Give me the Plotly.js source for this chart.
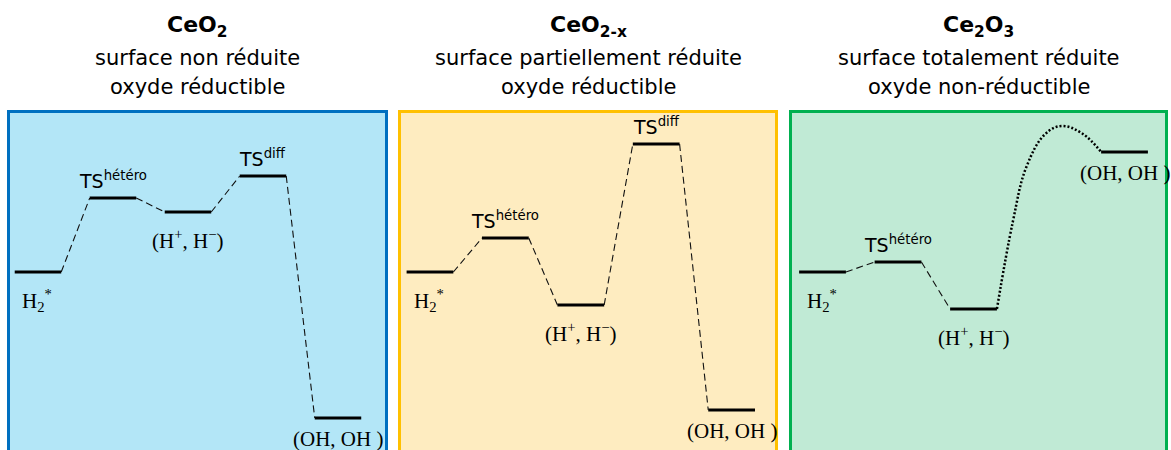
<!DOCTYPE html>
<html><head><meta charset="utf-8">
<script src="https://cdn.plot.ly/plotly-3.0.1.min.js"></script>
<style>html,body{margin:0;padding:0;background:#fff}#chart{width:1171px;height:450px}</style>
</head><body><div id="chart"></div>
<script>
// ---- panel titles ----
const panelFormula = ['CeO<sub>2</sub>', 'CeO<sub>2-x</sub>', 'Ce<sub>2</sub>O<sub>3</sub>'];
const panelLine2 = ['surface non réduite', 'surface partiellement réduite', 'surface totalement réduite'];
const panelLine3 = ['oxyde réductible', 'oxyde réductible', 'oxyde non-réductible'];

// ---- states: reaction-coordinate position, relative energy (H2* = 0), label ----
const posCeO2 = [0, 1, 2, 3, 4];
const energyCeO2 = [0, 0.74, 0.60, 0.96, -1.46];
const labelCeO2 = ['H<sub>2</sub><sup>*</sup>', 'TS<sup>hétéro</sup>', '(H<sup>+</sup>, H<sup>−</sup>)', 'TS<sup>diff</sup>', '(OH, OH )'];

const posCeO2x = [0, 1, 2, 3, 4];
const energyCeO2x = [0, 0.34, -0.33, 1.28, -1.38];
const labelCeO2x = ['H<sub>2</sub><sup>*</sup>', 'TS<sup>hétéro</sup>', '(H<sup>+</sup>, H<sup>−</sup>)', 'TS<sup>diff</sup>', '(OH, OH )'];

const posCe2O3 = [0, 1, 2, 4];
const energyCe2O3 = [0, 0.10, -0.37, 1.20];
const labelCe2O3 = ['H<sub>2</sub><sup>*</sup>', 'TS<sup>hétéro</sup>', '(H<sup>+</sup>, H<sup>−</sup>)', '(OH, OH )'];

// label placement: above (TS) or below the level
const labelSideCeO2 = ['below', 'above', 'below', 'above', 'below'];
const labelSideCeO2x = ['below', 'above', 'below', 'above', 'below'];
const labelSideCe2O3 = ['below', 'above', 'below', 'below'];

// dotted (non-reducible) pathway, Ce2O3 panel
const curveX = [2.31, 2.52, 2.70, 2.95, 3.17, 3.45, 3.69];
const curveE = [-0.37, 0.50, 1.05, 1.38, 1.46, 1.38, 1.20];

// ---- styles / layout ----
const W = 1171, H = 450;
const HW = 0.31; // half width of a level
const panels = [
  {pos: posCeO2, en: energyCeO2, lab: labelCeO2, side: labelSideCeO2, box: [7, 388], range: [-0.413, 4.667], fill: '#b3e6f7', line: '#0070c0', connectAll: true},
  {pos: posCeO2x, en: energyCeO2x, lab: labelCeO2x, side: labelSideCeO2x, box: [398, 778], range: [-0.424, 4.615], fill: '#feecc0', line: '#ffc000', connectAll: true},
  {pos: posCe2O3, en: energyCe2O3, lab: labelCe2O3, side: labelSideCe2O3, box: [789, 1168], range: [-0.444, 4.576], fill: '#c0ead5', line: '#00b050', connectAll: false}
];

const traces = [], shapes = [], annotations = [];
const layout = {
  width: W, height: H, margin: {l: 0, r: 0, t: 0, b: 0},
  paper_bgcolor: '#ffffff', plot_bgcolor: 'rgba(0,0,0,0)', showlegend: false,
  shapes: shapes, annotations: annotations
};
const sans = 'DejaVu Sans, Arial, sans-serif';
const serif = 'Liberation Serif, Times New Roman, serif';

panels.forEach((p, k) => {
  const sx = k === 0 ? '' : String(k + 1);
  const xa = 'x' + sx, ya = 'y' + sx;
  layout['xaxis' + sx] = {domain: [p.box[0] / W, p.box[1] / W], range: p.range, visible: false, fixedrange: true, anchor: ya};
  layout['yaxis' + sx] = {domain: [0, 1], range: [-1.78, 2.72], visible: false, fixedrange: true, anchor: xa};

  // panel box
  shapes.push({type: 'rect', xref: 'paper', yref: 'paper', layer: 'below',
    x0: (p.box[0] + 1.5) / W, x1: (p.box[1] - 1.5) / W, y0: -0.05, y1: 1 - 111.5 / H,
    fillcolor: p.fill, line: {color: p.line, width: 3}});

  // levels
  const lx = [], ly = [];
  p.pos.forEach((x, i) => { lx.push(x - HW, x + HW, null); ly.push(p.en[i], p.en[i], null); });
  traces.push({x: lx, y: ly, xaxis: xa, yaxis: ya, mode: 'lines', line: {color: '#000', width: 3}, hoverinfo: 'skip'});

  // dashed connectors
  const cx = [], cy = [];
  for (let i = 0; i < p.pos.length - 1; i++) {
    if (!p.connectAll && p.pos[i + 1] - p.pos[i] > 1) continue;
    cx.push(p.pos[i] + HW, p.pos[i + 1] - HW, null);
    cy.push(p.en[i], p.en[i + 1], null);
  }
  traces.push({x: cx, y: cy, xaxis: xa, yaxis: ya, mode: 'lines', line: {color: '#111', width: 1.1, dash: '7px,4px'}, hoverinfo: 'skip'});

  // titles
  const cxp = (p.box[0] + p.box[1]) / 2 / W;
  annotations.push({xref: 'paper', yref: 'paper', x: cxp, y: 1 - 26 / H, xanchor: 'center', yanchor: 'middle', showarrow: false,
    text: '<b>' + panelFormula[k] + '</b>', font: {family: sans, size: 22, color: '#000'}});
  annotations.push({xref: 'paper', yref: 'paper', x: cxp, y: 1 - 58 / H, xanchor: 'center', yanchor: 'middle', showarrow: false,
    text: panelLine2[k], font: {family: sans, size: 21, color: '#000'}});
  annotations.push({xref: 'paper', yref: 'paper', x: cxp, y: 1 - 87 / H, xanchor: 'center', yanchor: 'middle', showarrow: false,
    text: panelLine3[k], font: {family: sans, size: 21, color: '#000'}});

  // state labels
  p.lab.forEach((t, i) => {
    if (p.side[i] === 'above') {
      annotations.push({xref: xa, yref: ya, x: p.pos[i], y: p.en[i], xanchor: 'center', yanchor: 'bottom', yshift: 4,
        showarrow: false, text: t, font: {family: sans, size: 19, color: '#000'}});
    } else {
      const isH2 = i === 0;
      const isOH = t.indexOf('OH') >= 0;
      annotations.push({xref: xa, yref: ya, x: p.pos[i], y: p.en[i], xanchor: 'center', yanchor: 'top',
        xshift: isH2 ? -1 : 0, yshift: isH2 ? -12 : (isOH ? -7 : -12),
        showarrow: false, text: t, font: {family: serif, size: 21, color: '#000'}});
    }
  });
});

// dotted curved pathway in Ce2O3
traces.push({x: curveX, y: curveE, xaxis: 'x3', yaxis: 'y3', mode: 'lines',
  line: {color: '#000', width: 2.5, dash: '2px,2px', shape: 'spline', smoothing: 1.1}, hoverinfo: 'skip'});

Plotly.newPlot('chart', traces, layout, {staticPlot: true, displayModeBar: false});
</script>
</body></html>
